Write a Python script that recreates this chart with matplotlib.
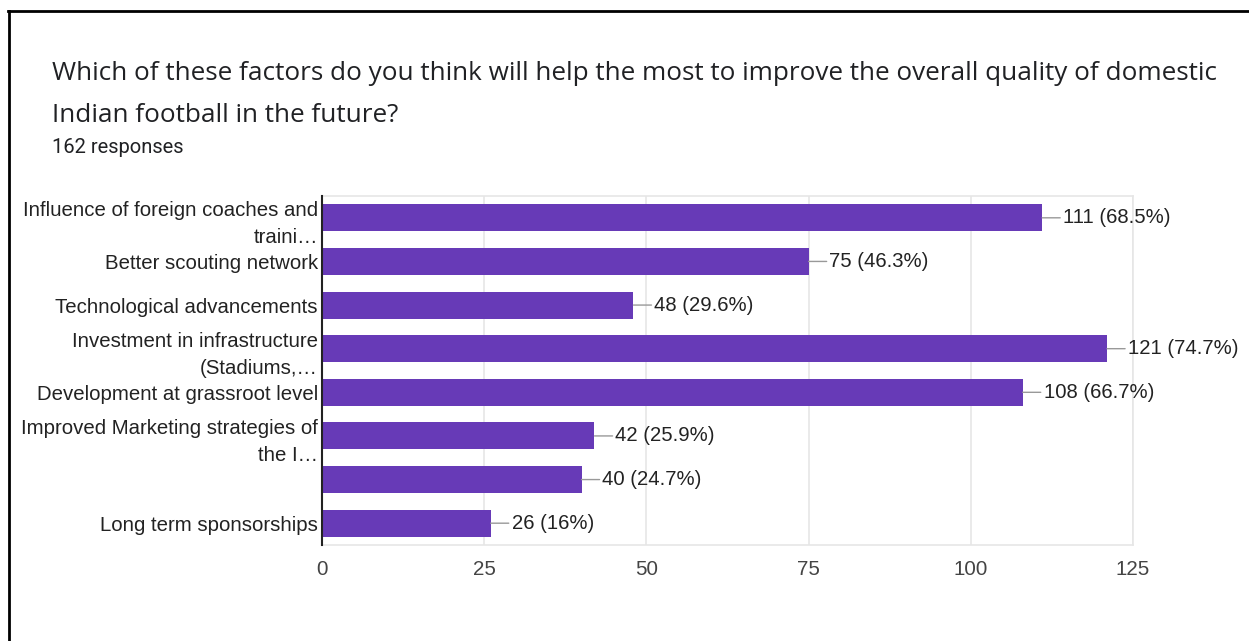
import matplotlib
matplotlib.use("Agg")
from matplotlib import pyplot as plt
from matplotlib.lines import Line2D

# survey answers, top to bottom
factors = [
    "Influence of foreign coaches and\ntraini\u2026",
    "Better scouting network",
    "Technological advancements",
    "Investment in infrastructure\n(Stadiums,\u2026",
    "Development at grassroot level",
    "Improved Marketing strategies of\nthe I\u2026",
    "",
    "Long term sponsorships",
]
counts = [111, 75, 48, 121, 108, 42, 40, 26]
percents = ["68.5%", "46.3%", "29.6%", "74.7%", "66.7%", "25.9%", "24.7%", "16%"]
x_ticks = [0, 25, 50, 75, 100, 125]

title_lines = [
    "Which of these factors do you think will help the most to improve the overall quality of domestic",
    "Indian football in the future?",
]
subtitle = "162 responses"

W, H = 1249, 641
fig = plt.figure(figsize=(W / 100, H / 100), dpi=100)
fig.patch.set_facecolor("white")

# outer frame: top and left edges only
fig.add_artist(Line2D([8 / W, 1], [1 - 11 / H, 1 - 11 / H], color="black", lw=2))
fig.add_artist(Line2D([8.5 / W, 8.5 / W], [0, 1 - 11 / H], color="black", lw=2))

# title lines placed by baseline (pixels from top)
for line, ypix in zip(title_lines, [80, 122]):
    fig.text(52 / W, 1 - ypix / H, line, fontsize=18.8, family="Open Sans", color="#202124",
             va="baseline", ha="left")
fig.text(52 / W, 1 - 153 / H, subtitle, fontsize=14.5, family="Roboto", color="#202124",
         va="baseline", ha="left")

ax = fig.add_axes([322 / W, 1 - 545 / H, (1133 - 322) / W, (545 - 196) / H])
y = list(range(len(factors)))
ax.barh(y, counts, height=0.62, color="#673ab7", zorder=3)
ax.set_ylim(len(factors) - 0.5, -0.5)
ax.set_xlim(0, 125)

ax.set_xticks(x_ticks)
ax.set_xticklabels([str(t) for t in x_ticks], fontsize=14.8, family="Liberation Sans", color="#444444")
ax.set_yticks(y)
ax.set_yticklabels(factors, fontsize=14.7, family="Liberation Sans", color="#222222",
                   linespacing=1.56)
ax.tick_params(axis="both", length=0)
ax.tick_params(axis="y", pad=3)
ax.tick_params(axis="x", pad=11)

ax.grid(axis="x", color="#e6e6e6", lw=1.2, zorder=0)
for s in ["top", "right", "bottom"]:
    ax.spines[s].set_color("#e6e6e6")
    ax.spines[s].set_linewidth(1.2)
ax.spines["left"].set_color("#222222")
ax.spines["left"].set_linewidth(1.5)
ax.spines["left"].set_zorder(4)

for i, (c, p) in enumerate(zip(counts, percents)):
    ax.annotate(f"{c} ({p})", xy=(c, i), xytext=(15, 0), textcoords="offset points",
                va="center", ha="left", fontsize=14.6, family="Liberation Sans", color="#222222",
                arrowprops=dict(arrowstyle="-", color="#999999", lw=1, relpos=(0, 0.5),
                                shrinkA=0, shrinkB=0),
                annotation_clip=False, zorder=5)

fig.savefig("out.png", dpi=100, facecolor="white")
